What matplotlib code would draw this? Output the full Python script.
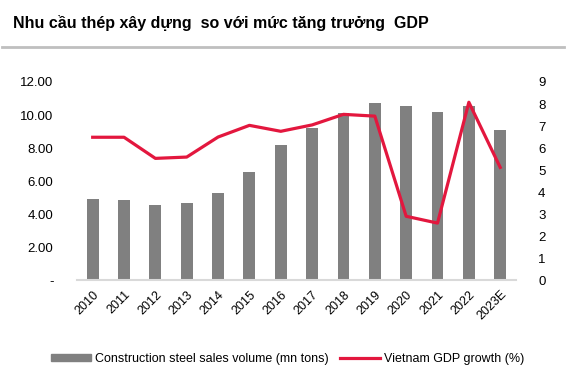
import matplotlib
matplotlib.use('Agg')
import matplotlib.pyplot as plt
from matplotlib.lines import Line2D
from matplotlib.patches import Patch

# ---------------- data ----------------
years = ['2010', '2011', '2012', '2013', '2014', '2015', '2016',
         '2017', '2018', '2019', '2020', '2021', '2022', '2023E']
steel_volume = [4.91, 4.83, 4.55, 4.65, 5.27, 6.55, 8.18,
                9.19, 10.10, 10.73, 10.55, 10.18, 10.55, 9.09]
gdp_growth = [6.49, 6.49, 5.53, 5.59, 6.50, 7.03, 6.76,
              7.05, 7.53, 7.45, 2.90, 2.59, 8.08, 5.12]
left_ticks = [0, 2, 4, 6, 8, 10, 12]
left_labels = ['-', '2.00', '4.00', '6.00', '8.00', '10.00', '12.00']
right_ticks = list(range(10))

# ---------------- style ----------------
plt.rcParams['font.family'] = ['Liberation Sans', 'DejaVu Sans']
BAR = '#808080'
LINE = '#E3173E'

fig = plt.figure(figsize=(5.79, 3.77), dpi=100)
ax = fig.add_axes([0.133, 0.257, 0.758, 0.5255])
ax2 = ax.twinx()

x = list(range(len(years)))
ax.bar(x, steel_volume, width=0.38, color=BAR, zorder=2)
ax2.plot(x, gdp_growth, color=LINE, linewidth=2.3, solid_joinstyle='round')

ax.set_xlim(-0.5, len(years) - 0.5)
ax.set_ylim(0, 12)
ax2.set_ylim(0, 9)

ax.set_yticks(left_ticks)
ax.set_yticklabels(left_labels, fontsize=9.5)
ax2.set_yticks(right_ticks)
ax2.set_yticklabels([str(t) for t in right_ticks], fontsize=9.5)

ax.set_xticks(x)
ax.set_xticklabels(years, rotation=45, ha='right', rotation_mode='anchor',
                   fontsize=9)

for a in (ax, ax2):
    for s in ('top', 'left', 'right'):
        a.spines[s].set_visible(False)
    a.tick_params(length=0)
ax2.spines['bottom'].set_visible(False)
ax.spines['bottom'].set_color('#d9d9d9')
ax.spines['bottom'].set_linewidth(1.5)
ax.tick_params(axis='y', pad=17)
ax2.tick_params(axis='y', pad=16)
ax.tick_params(axis='x', pad=6)

# title + rule
fig.text(0.022, 0.939, 'Nhu cầu thép xây dựng  so với mức tăng trưởng  GDP',
         fontsize=11.5, fontweight='bold', va='center', ha='left')
fig.add_artist(Line2D([0.004, 0.974], [0.875, 0.875], color='#bfbfbf',
                      linewidth=2, transform=fig.transFigure))

handles = [Patch(color=BAR), Line2D([0], [0], color=LINE, linewidth=2.3)]
fig.legend(handles, ['Construction steel sales volume (mn tons)',
                     'Vietnam GDP growth (%)'],
           loc='center', bbox_to_anchor=(0.497, 0.048), ncol=2, frameon=False,
           fontsize=9, handlelength=3.2, handleheight=0.6, columnspacing=0.9,
           handletextpad=0.35)

fig.savefig('out.png', dpi=100)
